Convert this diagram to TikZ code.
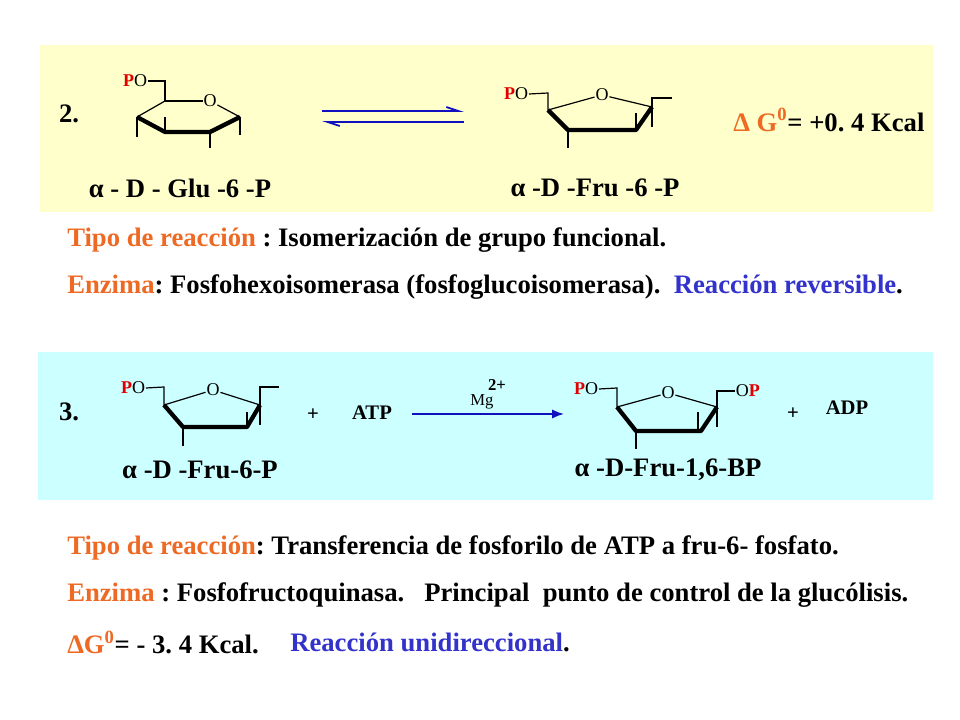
\documentclass[tikz,border=0pt]{standalone}
\usepackage{fontspec}
\setmainfont{Liberation Serif}
\usetikzlibrary{arrows.meta}
\definecolor{yel}{HTML}{FFFFCC}
\definecolor{cya}{HTML}{CCFFFF}
\definecolor{org}{HTML}{EE6A24}
\definecolor{blu}{HTML}{3333CC}
\definecolor{arr}{HTML}{1010C0}
\definecolor{pred}{HTML}{E00000}
\frenchspacing
\begin{document}
\begin{tikzpicture}[x=0.75pt,y=-0.75pt,
  big/.style={font=\bfseries\fontsize{20}{22}\selectfont, inner sep=0pt},
  txt/.style={big, anchor=west},
  atom/.style={font=\fontsize{13.5}{15}\selectfont, inner sep=0.5pt},
  reag/.style={font=\bfseries\fontsize{15.5}{17}\selectfont, inner sep=0pt},
  bond/.style={line width=0.9pt},
  wedge/.style={line width=3.2pt, line join=round}]
\useasboundingbox (0,0) rectangle (960,720);
\fill[white] (0,0) rectangle (960,720);
\fill[yel] (40,45) rectangle (933,212);
\fill[cya] (38,352) rectangle (933,500);

% ---- reaction 2
\node[big] (n2) at (69,114) {2.};
\node[atom,anchor=east] (g-po) at (148,81) {\textcolor{pred}{\bfseries P}O};
\node[atom] (g-o) at (210,101) {O};
\draw[bond] (g-po.east) -- (165,81) -- (165,101) -- (g-o);
\draw[bond] (g-o) -- (240,117);
\draw[bond] (165,101) -- (137,117);
\draw[wedge] (137,117) -- (165,132) -- (210,132) -- (240,117);
\draw[bond] (137,117) -- (137,137) (165,117) -- (165,132) (210,132) -- (210,148) (240,117) -- (240,135);
\node[big] (l1) at (180,188) {α - D - Glu -6 -P};
\coordinate (e1) at (322,111); \coordinate (e2) at (464,111);
\coordinate (e3) at (464,122); \coordinate (e4) at (322,122);
\draw[arr,line width=1.4pt,-{Straight Barb[left,length=9pt,width=6pt]}] (e1) -- (e2);
\draw[arr,line width=1.4pt,-{Straight Barb[left,length=9pt,width=6pt]}] (e3) -- (e4);
\node[atom,anchor=east] (f-po) at (529,94) {\textcolor{pred}{\bfseries P}O};
\node[atom] (f-o) at (602,95) {O};
\draw[bond] (f-po.east) -- (548,93) -- (548,110) -- (f-o);
\draw[bond] (f-o) -- (652,107);
\draw[bond] (652,127) -- (652,98) -- (672,98);
\draw[wedge] (548,110) -- (568,130) -- (636,130) -- (652,107);
\draw[bond] (568,130) -- (568,148) (636,113) -- (636,130);
\node[big] (l2) at (595,188) {α -D -Fru -6 -P};
\node[big,anchor=west] (dg1) at (733,120) {\textcolor{org}{Δ G\textsuperscript{0}}= +0. 4 Kcal};

\node[txt] (t1) at (67,240) {\textcolor{org}{Tipo de reacción} : Isomerización de grupo funcional.};
\node[txt] (t2) at (67,287) {\textcolor{org}{Enzima}: Fosfohexoisomerasa (fosfoglucoisomerasa).\ \ \textcolor{blu}{Reacción reversible}.};

% ---- reaction 3
\node[big] (n3) at (69,412) {3.};
\node[atom,anchor=east] (a-po) at (146,388) {\textcolor{pred}{\bfseries P}O};
\node[atom] (a-o) at (213,390) {O};
\draw[bond] (a-po.east) -- (164,387) -- (164,405) -- (a-o);
\draw[bond] (a-o) -- (260,405);
\draw[bond] (260,425) -- (260,387) -- (279,387);
\draw[wedge] (164,405) -- (183,427) -- (247,427) -- (260,405);
\draw[bond] (183,427) -- (183,446) (247,412) -- (247,427);
\node[reag] (plus1) at (313,415) {+};
\node[reag] (atp) at (372,413) {ATP};
\coordinate (k1) at (412,414); \coordinate (k2) at (564,414);
\draw[arr,line width=1.4pt,-{Latex[length=9pt,width=7pt]}] (k1) -- (k2);
\node[font=\fontsize{12.5}{13}\selectfont,inner sep=0pt] (mg) at (482,402) {Mg};
\node[font=\bfseries\fontsize{12.5}{13}\selectfont,inner sep=0pt] (mgc) at (497,385) {2+};
\node[big] (l3) at (200,470) {α -D -Fru-6-P};
\node[atom,anchor=east] (b-po) at (599,389) {\textcolor{pred}{\bfseries P}O};
\node[atom] (b-o) at (668,393) {O};
\node[atom,anchor=west] (b-op) at (735,391) {O\textcolor{pred}{\bfseries P}};
\draw[bond] (b-po.east) -- (617,388) -- (617,407) -- (b-o);
\draw[bond] (b-o) -- (717,407);
\draw[bond] (717,427) -- (717,391) -- (b-op.west);
\draw[wedge] (617,407) -- (636,431) -- (701,431) -- (717,407);
\draw[bond] (636,431) -- (636,449) (698,412) -- (698,430);
\node[reag] (plus2) at (793,414) {+};
\node[reag] (adp) at (847,408) {ADP};
\node[big] (l4) at (668,470) {α -D-Fru-1,6-BP};

\node[txt] (t3) at (67,548) {\textcolor{org}{Tipo de reacción}: Transferencia de fosforilo de ATP a fru-6- fosfato.};
\node[txt] (t4) at (67,595) {\textcolor{org}{Enzima} : Fosfofructoquinasa.\ \ \ Principal\ \ punto de control de la glucólisis.};
\node[txt] (t5) at (67,642) {\textcolor{org}{ΔG\textsuperscript{0}}= - 3. 4 Kcal.};
\node[txt] (t6) at (290,642) {\textcolor{blu}{Reacción unidireccional}.};
\end{tikzpicture}
\end{document}
